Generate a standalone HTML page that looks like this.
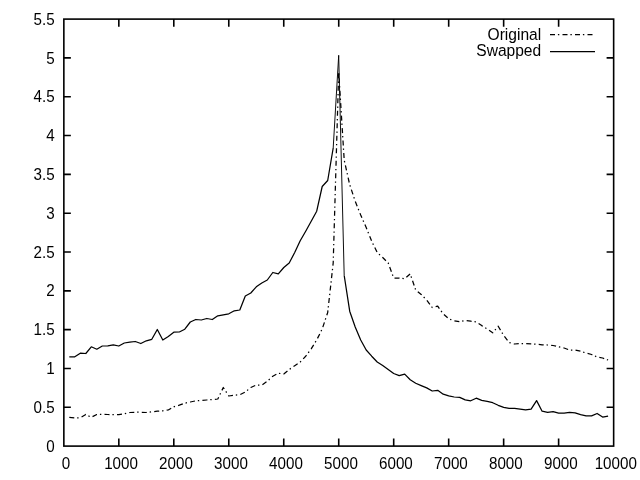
<!DOCTYPE html>
<html><head><meta charset="utf-8"><title>plot</title>
<style>
html,body{margin:0;padding:0;background:#fff;}
svg{display:block;}
text{font-family:"Liberation Sans",sans-serif;font-size:16.7px;fill:#000;}
text.d{font-size:16px;}
</style></head><body>
<svg width="640" height="480" viewBox="0 0 640 480">
<rect width="640" height="480" fill="#fff"/>
<g fill="none" stroke="#000" stroke-width="1.6" stroke-linecap="butt" stroke-linejoin="miter">
<rect x="63.85" y="19.1" width="549.8" height="427.0"/>
<path d="M118.83,446.1v-7.7M118.83,19.1v7.7M173.80,446.1v-7.7M173.80,19.1v7.7M228.78,446.1v-7.7M228.78,19.1v7.7M283.75,446.1v-7.7M283.75,19.1v7.7M338.73,446.1v-7.7M338.73,19.1v7.7M393.70,446.1v-7.7M393.70,19.1v7.7M448.68,446.1v-7.7M448.68,19.1v7.7M503.65,446.1v-7.7M503.65,19.1v7.7M558.62,446.1v-7.7M558.62,19.1v7.7M63.85,407.28h7M613.6,407.28h-7M63.85,368.46h7M613.6,368.46h-7M63.85,329.65h7M613.6,329.65h-7M63.85,290.83h7M613.6,290.83h-7M63.85,252.01h7M613.6,252.01h-7M63.85,213.19h7M613.6,213.19h-7M63.85,174.37h7M613.6,174.37h-7M63.85,135.55h7M613.6,135.55h-7M63.85,96.74h7M613.6,96.74h-7M63.85,57.92h7M613.6,57.92h-7"/>
</g>
<g text-anchor="end">
<text class="d" transform="translate(54.6,451.70) scale(0.95,1)">0</text>
<text class="d" transform="translate(54.6,412.88) scale(0.95,1)">0.5</text>
<text class="d" transform="translate(54.6,374.06) scale(0.95,1)">1</text>
<text class="d" transform="translate(54.6,335.25) scale(0.95,1)">1.5</text>
<text class="d" transform="translate(54.6,296.43) scale(0.95,1)">2</text>
<text class="d" transform="translate(54.6,257.61) scale(0.95,1)">2.5</text>
<text class="d" transform="translate(54.6,218.79) scale(0.95,1)">3</text>
<text class="d" transform="translate(54.6,179.97) scale(0.95,1)">3.5</text>
<text class="d" transform="translate(54.6,141.15) scale(0.95,1)">4</text>
<text class="d" transform="translate(54.6,102.34) scale(0.95,1)">4.5</text>
<text class="d" transform="translate(54.6,63.52) scale(0.95,1)">5</text>
<text class="d" transform="translate(54.6,24.70) scale(0.95,1)">5.5</text>
</g><g text-anchor="middle">
<text class="d" transform="translate(66.05,469) scale(0.95,1)">0</text>
<text class="d" transform="translate(121.03,469) scale(0.95,1)">1000</text>
<text class="d" transform="translate(176.00,469) scale(0.95,1)">2000</text>
<text class="d" transform="translate(230.97,469) scale(0.95,1)">3000</text>
<text class="d" transform="translate(285.95,469) scale(0.95,1)">4000</text>
<text class="d" transform="translate(340.93,469) scale(0.95,1)">5000</text>
<text class="d" transform="translate(395.90,469) scale(0.95,1)">6000</text>
<text class="d" transform="translate(450.88,469) scale(0.95,1)">7000</text>
<text class="d" transform="translate(505.85,469) scale(0.95,1)">8000</text>
<text class="d" transform="translate(560.83,469) scale(0.95,1)">9000</text>
<text class="d" transform="translate(615.80,469) scale(0.95,1)">10000</text>
</g>
<g text-anchor="end"><text transform="translate(541.2,39.7) scale(0.933,1)">Original</text><text transform="translate(541.2,56.3) scale(0.933,1)">Swapped</text></g>
<g fill="none" stroke="#000" stroke-width="1.25" stroke-linejoin="round">
<path stroke-dasharray="5 2.9 1.4 3.2" d="M550,34.5H593"/>
<polyline stroke-dasharray="5 2.9 1.4 3.2" points="69.3,417.3 74.8,417.8 80.3,417.8 85.8,414.5 91.3,417.3 96.8,414.5 102.3,414.4 107.8,414.5 113.3,414.6 118.8,414.7 124.3,413.8 129.8,412.5 135.3,412.2 140.8,412.2 146.3,412.5 151.8,411.8 157.3,411.2 162.8,410.8 168.3,410.0 173.8,406.8 179.3,405.2 184.8,403.2 190.3,402.0 195.8,400.8 201.3,400.5 206.8,400.0 212.3,399.5 217.8,399.0 223.3,387.5 228.8,396.0 234.3,395.2 239.8,394.8 245.3,392.0 250.8,387.5 256.3,385.0 261.8,385.2 267.3,381.2 272.8,376.2 278.3,373.2 283.8,374.0 289.2,369.5 294.7,365.8 300.2,362.0 305.7,356.2 311.2,348.8 316.7,340.0 322.2,329.0 327.7,312.5 333.2,263.0 338.7,72.0 344.2,160.0 349.7,184.7 355.2,201.2 360.7,215.0 366.2,227.5 371.7,241.2 377.2,252.5 382.7,257.5 388.2,263.0 393.7,278.0 399.2,278.0 404.7,278.8 410.2,273.8 415.7,290.0 421.2,294.5 426.7,300.0 432.2,307.5 437.7,306.2 443.2,313.8 448.7,318.8 454.2,320.8 459.7,321.8 465.2,320.5 470.7,321.2 476.2,321.9 481.7,325.6 487.2,329.0 492.7,332.8 498.2,326.2 503.7,335.5 509.1,342.5 514.6,344.0 520.1,343.5 525.6,343.5 531.1,343.8 536.6,344.2 542.1,344.8 547.6,345.0 553.1,345.5 558.6,346.8 564.1,348.0 569.6,350.0 575.1,350.0 580.6,351.2 586.1,353.0 591.6,354.5 597.1,357.0 602.6,358.0 608.1,360.0"/>
<path d="M550,51.5H595"/>
<polyline points="69.3,356.8 74.8,356.8 80.3,353.2 85.8,353.5 91.3,346.8 96.8,349.2 102.3,346.0 107.8,345.8 113.3,344.8 118.8,346.0 124.3,343.0 129.8,342.2 135.3,341.5 140.8,343.5 146.3,340.8 151.8,339.3 157.3,329.5 162.8,340.0 168.3,336.5 173.8,332.2 179.3,332.0 184.8,329.2 190.3,322.0 195.8,319.5 201.3,320.0 206.8,318.5 212.3,319.5 217.8,315.8 223.3,314.8 228.8,313.8 234.3,310.8 239.8,310.0 245.3,296.0 250.8,293.0 256.3,286.8 261.8,283.0 267.3,280.0 272.8,272.5 278.3,273.8 283.8,267.5 289.2,263.0 294.7,252.5 300.2,240.8 305.7,231.2 311.2,221.2 316.7,211.2 322.2,186.5 327.7,180.5 333.2,148.0"/>
<polyline stroke-width="0.95" stroke-linejoin="bevel" points="333.2,148.0 338.7,55.3 344.2,275.5"/>
<polyline points="344.2,275.5 349.7,311.2 355.2,327.0 360.7,340.0 366.2,350.0 371.7,356.2 377.2,362.0 382.7,365.5 388.2,369.5 393.7,373.5 399.2,375.6 404.7,374.1 410.2,379.7 415.7,383.2 421.2,385.6 426.7,387.9 432.2,391.0 437.7,390.3 443.2,394.2 448.7,395.8 454.2,397.0 459.7,397.4 465.2,399.9 470.7,400.8 476.2,398.2 481.7,400.4 487.2,401.4 492.7,402.7 498.2,405.3 503.7,407.3 509.1,408.4 514.6,408.4 520.1,409.2 525.6,409.9 531.1,409.2 536.6,400.6 542.1,411.2 547.6,412.4 553.1,411.6 558.6,413.1 564.1,413.1 569.6,412.4 575.1,412.9 580.6,414.6 586.1,415.8 591.6,415.9 597.1,413.5 602.6,417.1 608.1,416.1"/>
</g></svg></body></html>
